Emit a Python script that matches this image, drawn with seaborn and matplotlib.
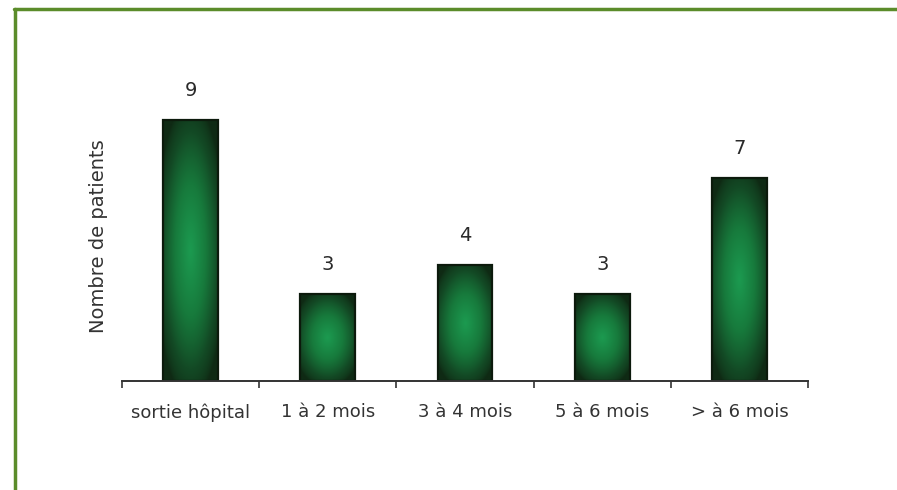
import numpy as np
import pandas as pd
import matplotlib
matplotlib.use("Agg")
import matplotlib.pyplot as plt
from matplotlib.colors import LinearSegmentedColormap
from matplotlib.lines import Line2D
import seaborn as sns

categories = ["sortie hôpital", "1 à 2 mois", "3 à 4 mois", "5 à 6 mois", "> à 6 mois"]
patients = [9, 3, 4, 3, 7]
y_label = "Nombre de patients"

sns.set_theme(style="white")
plt.rcParams["font.family"] = ["DejaVu Sans"]

df = pd.DataFrame({"periode": categories, "patients": patients})

fig = plt.figure(figsize=(8.97, 4.90), dpi=100)
ax = fig.add_axes([0.136, 0.2224, 0.7648, 0.5918])

sns.barplot(data=df, x="periode", y="patients", ax=ax, width=0.4,
            color="#145c2a", edgecolor="#102010", linewidth=1.2, saturation=1)

# shaded fill inside each bar: dark rim fading to a lighter green core
cmap = LinearSegmentedColormap.from_list(
    "bar_shade", ["#0f2a14", "#134a25", "#177a3c", "#1c9a50"])
for patch in ax.patches:
    x0, y0 = patch.get_x(), patch.get_y()
    w, h = patch.get_width(), patch.get_height()
    gx = np.linspace(-1, 1, 60)
    gy = np.linspace(-1, 1, 200)
    X, Y = np.meshgrid(gx, gy)
    d = np.sqrt(X ** 2 * 0.8 + Y ** 2)
    shade = np.clip(1 - d / 1.15, 0, 1) ** 0.7
    im = ax.imshow(shade, cmap=cmap, extent=[x0, x0 + w, y0, y0 + h],
                   aspect="auto", origin="lower", zorder=patch.get_zorder() + 0.1,
                   vmin=0, vmax=1, interpolation="bilinear")
    im.set_clip_path(patch)
    ax.add_patch(plt.Rectangle((x0, y0), w, h, fill=False, edgecolor="#0c1a0c",
                               linewidth=1.6, zorder=patch.get_zorder() + 0.2))

for i, v in enumerate(patients):
    ax.text(i, v + 0.7, str(v), ha="center", va="bottom", fontsize=14,
            color="#2a2a2a")

ax.set_xlim(-0.5, len(categories) - 0.5)
ax.set_ylim(0, 10)
ax.set_xlabel("")
ax.set_ylabel(y_label, fontsize=14, color="#333333", labelpad=10)
ax.set_yticks([])

ax.set_xticks(np.arange(-0.5, len(categories)), labels=[""] * (len(categories) + 1))
ax.set_xticks(np.arange(len(categories)), labels=categories, minor=True)
ax.tick_params(axis="x", which="major", direction="out", length=5, width=1.2,
               color="#333333", bottom=True)
ax.tick_params(axis="x", which="minor", length=0, pad=16, labelsize=13,
               labelcolor="#333333")

for side in ["top", "right", "left"]:
    ax.spines[side].set_visible(False)
ax.spines["bottom"].set_color("#333333")
ax.spines["bottom"].set_linewidth(1.4)

# green frame along the top and left edges of the figure
fig.add_artist(Line2D([14 / 897, 1.0], [1 - 9 / 490, 1 - 9 / 490],
                      transform=fig.transFigure, color="#5b8c2a", linewidth=2.5))
fig.add_artist(Line2D([15 / 897, 15 / 897], [0, 1 - 9 / 490],
                      transform=fig.transFigure, color="#5b8c2a", linewidth=2.5))

fig.savefig("out.png", dpi=100)
